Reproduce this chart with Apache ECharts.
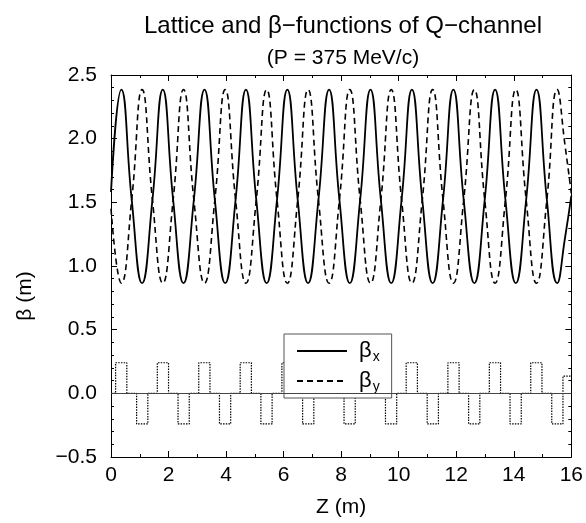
<!DOCTYPE html>
<html>
<head>
<meta charset="utf-8">
<script src="https://cdn.jsdelivr.net/npm/echarts@6/dist/echarts.min.js"></script>
<style>
  html, body { margin: 0; padding: 0; background: #fff; }
  #chart { width: 586px; height: 523px; }
</style>
</head>
<body>
<div id="chart"></div>
<script>
// Z (m) of the points: beta extrema, crossings, start/end
const zPoints = [
  0.00, 0.36, 0.72, 1.08, 1.44, 1.80, 2.16, 2.52, 2.88, 3.25, 3.61, 3.97,
  4.33, 4.69, 5.05, 5.41, 5.77, 6.13, 6.49, 6.85, 7.21, 7.58, 7.94, 8.30,
  8.66, 9.02, 9.38, 9.74, 10.10, 10.46, 10.82, 11.18, 11.54, 11.90, 12.26, 12.63,
  12.99, 13.35, 13.71, 14.07, 14.43, 14.79, 15.15, 15.51, 15.78, 16.00
]
const betaX = [
  1.58, 2.385, 1.52, 0.865, 1.52, 2.385, 1.52, 0.865, 1.52, 2.385, 1.52, 0.865,
  1.52, 2.385, 1.52, 0.865, 1.52, 2.385, 1.52, 0.865, 1.52, 2.385, 1.52, 0.865,
  1.52, 2.385, 1.52, 0.865, 1.52, 2.385, 1.52, 0.865, 1.52, 2.385, 1.52, 0.865,
  1.52, 2.385, 1.52, 0.865, 1.52, 2.385, 1.52, 0.865, 1.22, 1.55
]
const betaY = [
  1.45, 0.865, 1.52, 2.385, 1.52, 0.865, 1.52, 2.385, 1.52, 0.865, 1.52, 2.385,
  1.52, 0.865, 1.52, 2.385, 1.52, 0.865, 1.52, 2.385, 1.52, 0.865, 1.52, 2.385,
  1.52, 0.865, 1.52, 2.385, 1.52, 0.865, 1.52, 2.385, 1.52, 0.865, 1.52, 2.385,
  1.52, 0.865, 1.52, 2.385, 1.52, 0.865, 1.52, 2.385, 1.95, 1.57
]

// lattice: quadrupole edges (m)
const focusQuads = [
  [0.16, 0.55], [1.61, 2.00], [3.05, 3.44], [4.49, 4.88], [5.94, 6.33], [7.38, 7.77],
  [8.82, 9.21], [10.26, 10.65], [11.71, 12.10], [13.15, 13.54], [14.59, 14.98]
]
const defocusQuads = [
  [0.89, 1.28], [2.33, 2.72], [3.77, 4.16], [5.21, 5.60], [6.66, 7.05], [8.10, 8.49],
  [9.54, 9.93], [10.99, 11.38], [12.43, 12.82], [13.87, 14.26], [15.32, 15.71]
]
const quadHeight = 0.24
const endQuad = [15.71, 16.0, 0.135]

const font = "'Liberation Sans', Arial, Helvetica, sans-serif"

// 把四极铁画成阶梯线
const quads = focusQuads.map((q) => [q[0], q[1], quadHeight])
  .concat(defocusQuads.map((q) => [q[0], q[1], -quadHeight]))
  .sort((a, b) => a[0] - b[0])
const lattice = [[0, 0]]
quads.forEach((q) => {
  lattice.push([q[0], 0], [q[0], q[2]], [q[1], q[2]], [q[1], 0])
})
lattice.push([endQuad[0], endQuad[2]], [endQuad[1], endQuad[2]])

const tickX = {
  min: 0, max: 16, interval: 2,
  axisLine: { show: true, onZero: false, lineStyle: { color: "#000", width: 1 } },
  axisTick: { show: true, inside: true, length: 6, lineStyle: { color: "#000" } },
  minorTick: { show: true, splitNumber: 2, length: 3, lineStyle: { color: "#000" } },
  splitLine: { show: false }
}
const tickY = {
  min: -0.5, max: 2.5, interval: 0.5,
  axisLine: { show: true, onZero: false, lineStyle: { color: "#000", width: 1 } },
  axisTick: { show: true, inside: true, length: 6, lineStyle: { color: "#000" } },
  minorTick: { show: true, splitNumber: 5, length: 3, lineStyle: { color: "#000" } },
  splitLine: { show: false }
}

const myChart = echarts.init(document.getElementById("chart"))

const option = {
  animation: false,
  backgroundColor: "#fff",
  grid: { left: 111, right: 13, top: 75, bottom: 63 },
  graphic: [
    {
      type: "text", x: 343, y: 26,
      style: { text: "Lattice and β−functions of Q−channel", font: "24px " + font, fill: "#000", textAlign: "center", textVerticalAlign: "middle" }
    },
    {
      type: "text", x: 343, y: 58,
      style: { text: "(P = 375 MeV/c)", font: "21px " + font, fill: "#000", textAlign: "center", textVerticalAlign: "middle" }
    },
    {
      type: "text", x: 25, y: 296, rotation: Math.PI / 2,
      style: { text: "β (m)", font: "21px " + font, fill: "#000", textAlign: "center", textVerticalAlign: "middle" }
    }
  ],
  legend: {
    data: ["βx", "βy"],
    orient: "vertical",
    left: 284,
    top: 334,
    backgroundColor: "#fff",
    borderColor: "#555",
    borderWidth: 1,
    borderRadius: 0,
    padding: [6, 12, 4, 12],
    itemWidth: 50,
    itemHeight: 14,
    itemGap: 6,
    itemStyle: { opacity: 0 },
    formatter: (name) => "{b|β}{s|" + name.slice(1) + "}",
    textStyle: {
      color: "#000",
      rich: {
        b: { fontSize: 22, fontFamily: font, color: "#000", padding: [0, 0, 0, 7] },
        s: { fontSize: 14, fontFamily: font, color: "#000", padding: [12, 0, 0, 1] }
      }
    }
  },
  xAxis: [
    Object.assign({}, tickX, {
      type: "value", position: "bottom",
      name: "Z (m)", nameLocation: "middle", nameGap: 40,
      nameTextStyle: { fontSize: 21, fontFamily: font, color: "#000" },
      axisLabel: { fontSize: 21, fontFamily: font, color: "#000", margin: 8 }
    }),
    Object.assign({}, tickX, { type: "value", position: "top", axisLabel: { show: false } })
  ],
  yAxis: [
    Object.assign({}, tickY, {
      type: "value", position: "left",
      axisLabel: {
        fontSize: 21, fontFamily: font, color: "#000", margin: 14,
        formatter: (v) => v.toFixed(1).replace("-", "−")
      }
    }),
    Object.assign({}, tickY, { type: "value", position: "right", axisLabel: { show: false } })
  ],
  series: [
    {
      name: "βx",
      type: "line",
      data: zPoints.map((z, i) => [z, betaX[i]]),
      smooth: 0.5,
      symbol: "none",
      lineStyle: { color: "#000", width: 1.8, type: "solid" },
      itemStyle: { color: "#000" }
    },
    {
      name: "βy",
      type: "line",
      data: zPoints.map((z, i) => [z, betaY[i]]),
      smooth: 0.5,
      symbol: "none",
      lineStyle: { color: "#000", width: 1.6, type: [6, 4] },
      itemStyle: { color: "#000" }
    },
    {
      name: "lattice",
      type: "line",
      data: lattice,
      symbol: "none",
      lineStyle: { color: "#000", width: 1.2, type: [1.5, 1.2] },
      markLine: {
        silent: true,
        symbol: ["none", "none"],
        label: { show: false },
        lineStyle: { color: "#444", width: 1, type: "solid" },
        data: [{ yAxis: 0 }]
      }
    }
  ]
}

myChart.setOption(option)
</script>
</body>
</html>
